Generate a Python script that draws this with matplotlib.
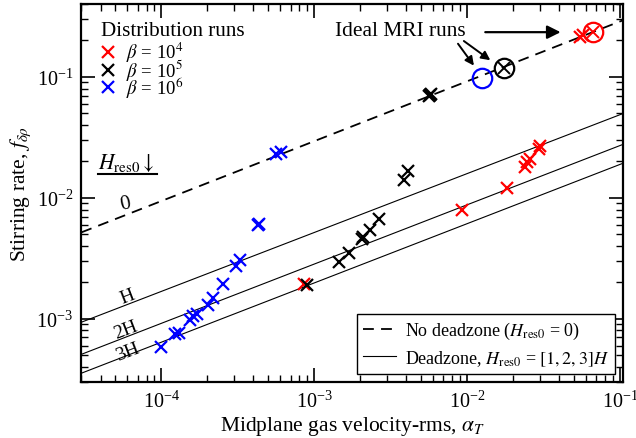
import numpy as np
import matplotlib
matplotlib.use("Agg")
import matplotlib.pyplot as plt
from matplotlib.lines import Line2D

plt.rcParams['font.family'] = ['Liberation Serif', 'DejaVu Serif']
plt.rcParams['mathtext.fontset'] = 'stix'
plt.rcParams['font.size'] = 14

# distribution runs (alpha_T, f_drho)
b4_alpha = [8.6e-4, 9.3e-3, 0.0181, 0.0240, 0.0247, 0.0259, 0.0294, 0.0301, 0.055, 0.057]
b4_f = [1.94e-3, 8.0e-3, 0.0120, 0.0179, 0.0197, 0.0210, 0.0254, 0.0270, 0.213, 0.220]
b5_alpha = [8.95e-4, 1.46e-3, 1.69e-3, 2.05e-3, 2.08e-3, 2.32e-3, 2.65e-3, 3.86e-3, 4.1e-3,
            5.6e-3, 5.7e-3, 5.8e-3]
b5_f = [1.91e-3, 2.94e-3, 3.51e-3, 4.58e-3, 4.7e-3, 5.37e-3, 6.7e-3, 0.0141, 0.0168,
        0.0690, 0.0705, 0.0720]
b6_alpha = [1.0e-4, 1.22e-4, 1.30e-4, 1.53e-4, 1.61e-4, 1.71e-4, 2.02e-4, 2.19e-4, 2.52e-4,
            3.08e-4, 3.29e-4, 4.30e-4, 4.35e-4, 5.62e-4, 6.06e-4]
b6_f = [5.83e-4, 7.5e-4, 7.65e-4, 9.7e-4, 1.06e-3, 1.10e-3, 1.29e-3, 1.48e-3, 1.92e-3,
        2.75e-3, 3.08e-3, 5.9e-3, 6.1e-3, 0.0231, 0.0240]

# ideal MRI runs
mri_alpha = [0.0126, 0.0173, 0.0668]
mri_f = [0.098, 0.1186, 0.234]
mri_color = ['blue', 'black', 'red']
mri_cross = [False, True, True]

# model fits: log10 f = a + p * log10 alpha
model_a = {'0': -0.047, 'H': -0.826, '2H': -1.078, '3H': -1.234}
model_p = {'0': 0.495, 'H': 0.487, '2H': 0.49, '3H': 0.49}

beta_colors = ['red', 'black', 'blue']
beta_labels = [r'$\beta$ = 10$^4$', r'$\beta$ = 10$^5$', r'$\beta$ = 10$^6$']

xlim = (3e-5, 0.105)
ylim = (3e-4, 0.4)

fig = plt.figure(figsize=(6.36, 4.39), dpi=100)
ax = fig.add_axes([0.128, 0.1276, 0.852, 0.861])
ax.set_xscale('log'); ax.set_yscale('log')

xx = np.logspace(np.log10(xlim[0]), np.log10(xlim[1]), 50)
for key in ['0', 'H', '2H', '3H']:
    yy = 10**(model_a[key] + model_p[key]*np.log10(xx))
    if key == '0':
        ax.plot(xx, yy, color='black', lw=1.3, dashes=(6, 4), zorder=1)
    else:
        ax.plot(xx, yy, color='black', lw=0.8, zorder=1)

mk = dict(marker='x', ls='none', ms=8, mew=1.6, zorder=3)
ax.plot(b4_alpha, b4_f, color='red', **mk)
ax.plot(b5_alpha, b5_f, color='black', **mk)
ax.plot(b6_alpha, b6_f, color='blue', **mk)

for a, f, c, cr in zip(mri_alpha, mri_f, mri_color, mri_cross):
    ax.plot(a, f, marker='o', ms=14, mfc='none', mec=c, mew=1.6, zorder=4)
    if cr:
        ax.plot(a, f, marker='x', ms=9, color=c, mew=1.4, zorder=4)

ax.set_xlim(*xlim); ax.set_ylim(*ylim)
ax.tick_params(which='both', direction='in', top=True, right=True, labelsize=14.5)
ax.tick_params(which='major', length=10, width=1.2, pad=6)
ax.tick_params(which='minor', length=5, width=1.0)
for s in ax.spines.values():
    s.set_linewidth(1.6)

ax.set_xlabel(r'Midplane gas velocity-rms, $\alpha_T$', fontsize=15.5, labelpad=2)
ax.set_ylabel(r'Stirring rate, $f_{\delta\rho}$', fontsize=15.5, labelpad=2)

# "Distribution runs" key, drawn by hand so the rows sit tight
ax.text(0.0355, 0.931, 'Distribution runs', transform=ax.transAxes, fontsize=15.2,
        ha='left', va='center')
for i, (c, lab) in enumerate(zip(beta_colors, beta_labels)):
    yk = 0.8725 - i*0.0465
    ax.plot([0.0495], [yk], transform=ax.transAxes, color=c, marker='x', ms=8, mew=1.6)
    ax.text(0.083, yk, lab, transform=ax.transAxes, fontsize=13.5, ha='left', va='center')

h2 = [Line2D([], [], color='black', lw=1.3, dashes=(6, 4)), Line2D([], [], color='black', lw=0.8)]
leg2 = ax.legend(h2, [r'No deadzone ($H_{\rm res0}$ = 0)', r'Deadzone, $H_{\rm res0}$ = $[1,2,3]H$'],
                 loc='lower right', fontsize=13, fancybox=False, edgecolor='black', framealpha=1,
                 handlelength=1.8, handletextpad=0.5, borderaxespad=0.45, labelspacing=0.35,
                 borderpad=0.35)
leg2.get_frame().set_linewidth(1.0)

# annotations
ax.text(3.68e-3, 0.24, 'Ideal MRI runs', fontsize=15.4, ha='center', va='center')
arr = dict(arrowstyle='-|>', color='black', lw=1.6, mutation_scale=20)
ax.annotate('', xy=(0.0426, 0.234), xytext=(0.0126, 0.234), arrowprops=arr)
arr2 = dict(arrowstyle='-|>', color='black', lw=1.4, mutation_scale=13)
ax.annotate('', xy=(0.01135, 0.1186), xytext=(8.5e-3, 0.196), arrowprops=arr2)
ax.annotate('', xy=(0.01466, 0.133), xytext=(9.2e-3, 0.204), arrowprops=arr2)

ax.text(0.030, 0.553, r'$H_{\rm res0}\downarrow$', transform=ax.transAxes, fontsize=15.5,
        ha='left', va='bottom')
ax.plot([0.031, 0.139], [0.55, 0.55], color='black', lw=1.5, transform=ax.transAxes)
ax.text(0.082, 0.472, '0', transform=ax.transAxes, fontsize=15, ha='center', va='center', rotation=12)
ax.text(0.085, 0.226, 'H', transform=ax.transAxes, fontsize=14, ha='center', va='center', rotation=21)
ax.text(0.082, 0.14, '2H', transform=ax.transAxes, fontsize=14, ha='center', va='center', rotation=21)
ax.text(0.085, 0.08, '3H', transform=ax.transAxes, fontsize=14, ha='center', va='center', rotation=21)

fig.savefig('out.png', dpi=100)
